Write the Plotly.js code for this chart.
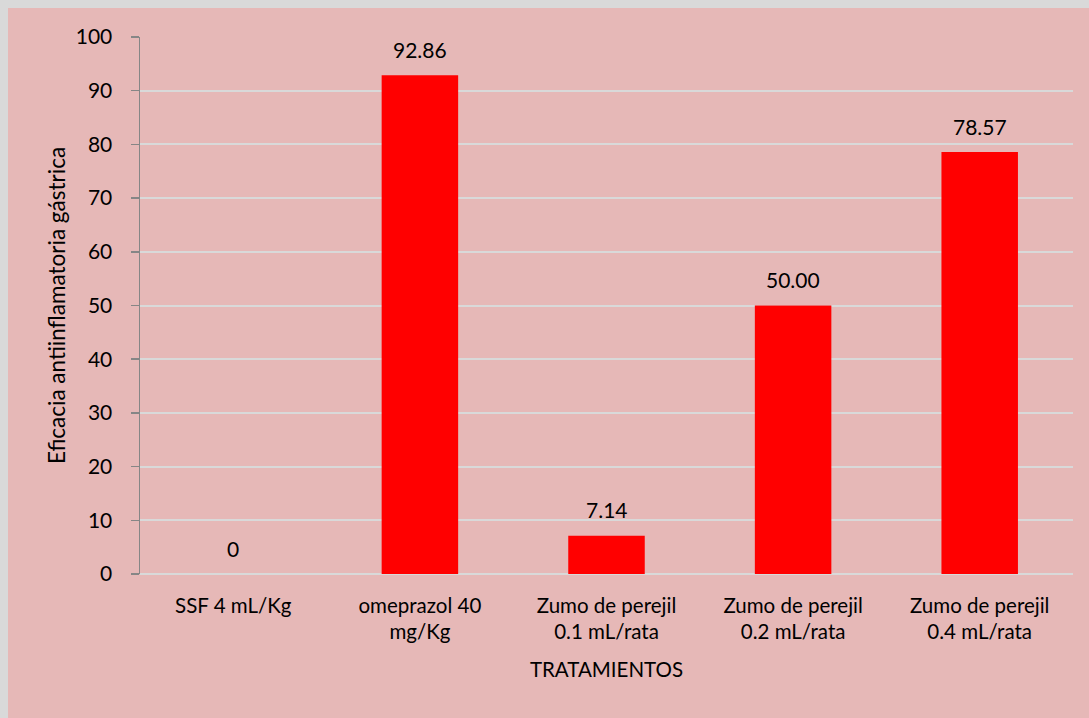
<!DOCTYPE html>
<html>
<head>
<meta charset="utf-8">
<script src="https://cdn.plot.ly/plotly-3.0.1.min.js"></script>
<style>
html,body{margin:0;padding:0;background:#d9d9d9;width:1089px;height:718px;overflow:hidden;}
#chart{position:absolute;left:8px;top:8px;width:1081px;height:710px;}
</style>
</head>
<body>
<div id="chart"></div>
<script>
const categories = ["SSF 4 mL/Kg", "omeprazol 40<br>mg/Kg", "Zumo de perejil<br>0.1 mL/rata", "Zumo de perejil<br>0.2 mL/rata", "Zumo de perejil<br>0.4 mL/rata"];
const values = [0, 92.86, 7.14, 50.00, 78.57];
const labels = ["0", "92.86", "7.14", "50.00", "78.57"];
const yTicks = [0, 10, 20, 30, 40, 50, 60, 70, 80, 90, 100];

const font = "Lato, 'Open Sans', sans-serif";
const pink = "#e6b8b7";

const trace = {
  type: "bar",
  x: categories,
  y: values,
  marker: {color: "#ff0000"},
  hoverinfo: "skip"
};

const annotations = categories.map((c, i) => ({
  x: c, y: values[i], xref: "x", yref: "y",
  text: labels[i], showarrow: false,
  yshift: 26, font: {family: font, size: 21, color: "#000"}
}));

const layout = {
  width: 1081, height: 710,
  paper_bgcolor: pink, plot_bgcolor: pink,
  margin: {l: 132, r: 16, t: 29, b: 144},
  bargap: 0.59,
  showlegend: false,
  font: {family: font, size: 20.5, color: "#000"},
  xaxis: {
    type: "category",
    showline: false, showgrid: false, zeroline: false,
    ticks: "", ticklabelstandoff: 17,
    tickfont: {family: font, size: 20.5, color: "#000"},
    title: {text: "TRATAMIENTOS", font: {family: font, size: 20.5, color: "#000"}, standoff: 20}
  },
  yaxis: {
    range: [0, 100], tickvals: yTicks, ticktext: yTicks.map(String),
    showline: true, linecolor: "#868686", linewidth: 1.5,
    ticks: "outside", ticklen: 8, tickcolor: "#868686", tickwidth: 1.5,
    ticklabelstandoff: 14,
    showgrid: true, gridcolor: "#d9d9d9", gridwidth: 2,
    zeroline: true, zerolinecolor: "#d9d9d9", zerolinewidth: 2,
    tickfont: {family: font, size: 21, color: "#000"},
    title: {text: "Eficacia antiinflamatoria gástrica", font: {family: font, size: 22.5, color: "#000"}, standoff: 4}
  },
  annotations: annotations
};

Plotly.newPlot("chart", [trace], layout, {displayModeBar: false, staticPlot: true});
</script>
</body>
</html>
